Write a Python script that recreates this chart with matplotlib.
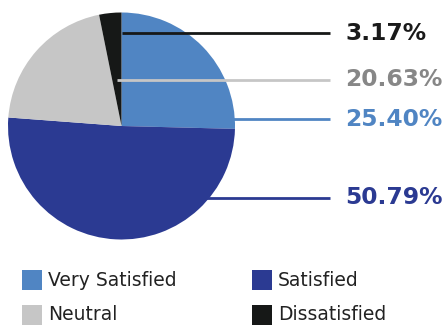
import matplotlib
matplotlib.use("Agg")
import matplotlib.pyplot as plt
from matplotlib.patches import Rectangle

labels = ["Very Satisfied", "Satisfied", "Neutral", "Dissatisfied"]
shares = [25.40, 50.79, 20.63, 3.17]
colors = ["#5085c3", "#2b3a92", "#c6c6c6", "#161817"]
text_colors = ["#5085c3", "#2b3a92", "#878787", "#1a1a1a"]

W, H = 446, 325
fig = plt.figure(figsize=(W / 100, H / 100), dpi=100)
ax = fig.add_axes([0, 0, 1, 1])

# work in pixel units, y measured from the bottom
cx, cy, r = 121.5, H - 126, 113.5
ax.pie(shares, colors=colors, startangle=90, counterclock=False,
       center=(cx, cy), radius=r, wedgeprops=dict(linewidth=0, zorder=2))
ax.set_xlim(0, W)
ax.set_ylim(0, H)
ax.set_aspect("equal")
ax.axis("off")

# leader lines: (y from top, x start, drawn over the pie?)
leaders = {
    "Dissatisfied": (33, cx, True),
    "Neutral": (80, 117, True),
    "Very Satisfied": (119, cx, False),
    "Satisfied": (198, cx, False),
}
for lab, val, tc, col in zip(labels, shares, text_colors, colors):
    y, x0, on_top = leaders[lab]
    ax.plot([x0, 330], [H - y, H - y], color=col, lw=2,
            zorder=3 if on_top else 1, solid_capstyle="butt")
    ax.text(345, H - y, f"{val:.2f}%", color=tc, fontsize=16.8,
            fontweight="bold", va="center", ha="left")

# legend, two columns
legend_pos = {
    "Very Satisfied": (22, 270),
    "Neutral": (22, 305),
    "Satisfied": (252, 270),
    "Dissatisfied": (252, 305),
}
for lab, col in zip(labels, colors):
    x, y = legend_pos[lab]
    ax.add_patch(Rectangle((x, H - y - 20), 20, 20, color=col, lw=0))
    ax.text(x + 26, H - y - 10, lab, fontsize=13.5, color="#222222",
            va="center", ha="left")

fig.savefig("out.png", dpi=100)
